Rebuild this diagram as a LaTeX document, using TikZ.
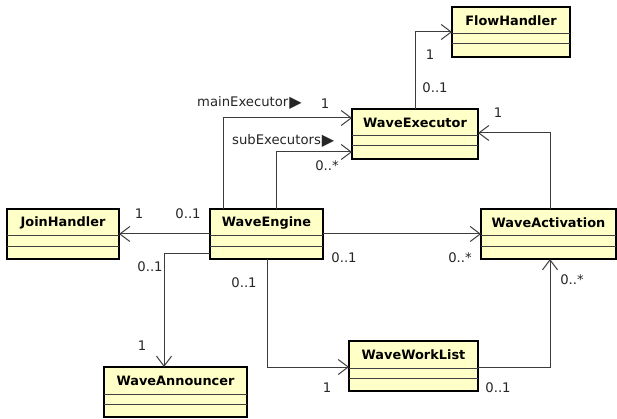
\documentclass[tikz,border=0pt]{standalone}
\usepackage{fontspec}
\setmainfont{DejaVu Sans}
\usetikzlibrary{arrows.meta,calc}
\definecolor{classfill}{RGB}{255,255,200}
\definecolor{linecol}{RGB}{60,60,60}
\newcommand\umlclass[5]{%
  \node[classbox, minimum width=#4] (#1) at (#2,#3+25) {};
  \node[classtitle] (#1-t) at (#2,#3+14) {#5};
  \draw[divider] ($(#1.north west)+(0,27)$) -- ($(#1.north east)+(0,27)$);
  \draw[divider] ($(#1.north west)+(0,37)$) -- ($(#1.north east)+(0,37)$);
}
\newcommand\tri{\hspace{1pt}\raisebox{-1pt}{\fontsize{16}{16}\selectfont▶}}
\begin{document}
\begin{tikzpicture}[x=1pt,y=-1pt,
  classbox/.style={draw=black, line width=2pt, fill=classfill, minimum height=50pt, inner sep=0pt, outer sep=0pt},
  classtitle/.style={font=\fontsize{12.9}{15}\selectfont\bfseries, inner sep=0pt},
  divider/.style={draw=black!75, line width=1pt},
  assoc/.style={draw=linecol, line width=1pt, -{Straight Barb[length=10pt,width=15pt,line width=1pt]}},
  mult/.style={font=\fontsize{13.2}{15}\selectfont, inner sep=0pt, text=black!85}
]
\useasboundingbox (0,0) rectangle (617,419);
\fill[white] (0,0) rectangle (617,419);

\umlclass{flow}{511}{7}{118pt}{FlowHandler}
\umlclass{exec}{415}{109}{126pt}{WaveExecutor}
\umlclass{join}{63}{209}{112pt}{JoinHandler}
\umlclass{eng}{266.5}{209}{113pt}{WaveEngine}
\umlclass{act}{548.5}{209}{135pt}{WaveActivation}
\umlclass{ann}{175.5}{367}{143pt}{WaveAnnouncer}
\umlclass{wl}{413.5}{341}{129pt}{WaveWorkList}

% connectors
\draw[assoc] (exec.north) |- (flow.west);
\draw[assoc] ($(eng.north west)+(13,0)$) |- ($(exec.north west)+(0,9)$);
\draw[assoc] ($(eng.north west)+(66,0)$) |- ($(exec.north west)+(0,43)$);
\draw[assoc] ($(act.north west)+(69,0)$) |- ($(exec.north east)+(0,24)$);
\draw[assoc] (eng.west) -- (join.east);
\draw[assoc] (eng.east) -- (act.west);
\draw[assoc] ($(eng.south west)+(0,-6)$) -| ($(ann.north west)+(60,0)$);
\draw[assoc] ($(eng.south west)+(57,0)$) |- ($(wl.north west)+(0,26)$);
\draw[assoc] ($(wl.north east)+(0,26)$) -| ($(act.south west)+(69,0)$);

% labels
\node[mult] (m1) at (430,55) {1};
\node[mult] (m2) at (435,88) {0..1};
\node[mult, anchor=west] (r1) at (197,103) {mainExecutor\tri};
\node[mult] (m3) at (325,104) {1};
\node[mult, anchor=west] (r2) at (232,141) {subExecutors\tri};
\node[mult] (m4) at (327,166) {0..*};
\node[mult] (m5) at (498,113) {1};
\node[mult] (m6) at (139,214) {1};
\node[mult] (m7) at (188,214) {0..1};
\node[mult] (m8) at (344,258) {0..1};
\node[mult] (m9) at (460,258) {0..*};
\node[mult] (m10) at (572,280) {0..*};
\node[mult] (m11) at (150,267) {0..1};
\node[mult] (m12) at (142,346) {1};
\node[mult] (m13) at (244,283) {0..1};
\node[mult] (m14) at (327,388) {1};
\node[mult] (m15) at (498,388) {0..1};
\end{tikzpicture}
\end{document}
